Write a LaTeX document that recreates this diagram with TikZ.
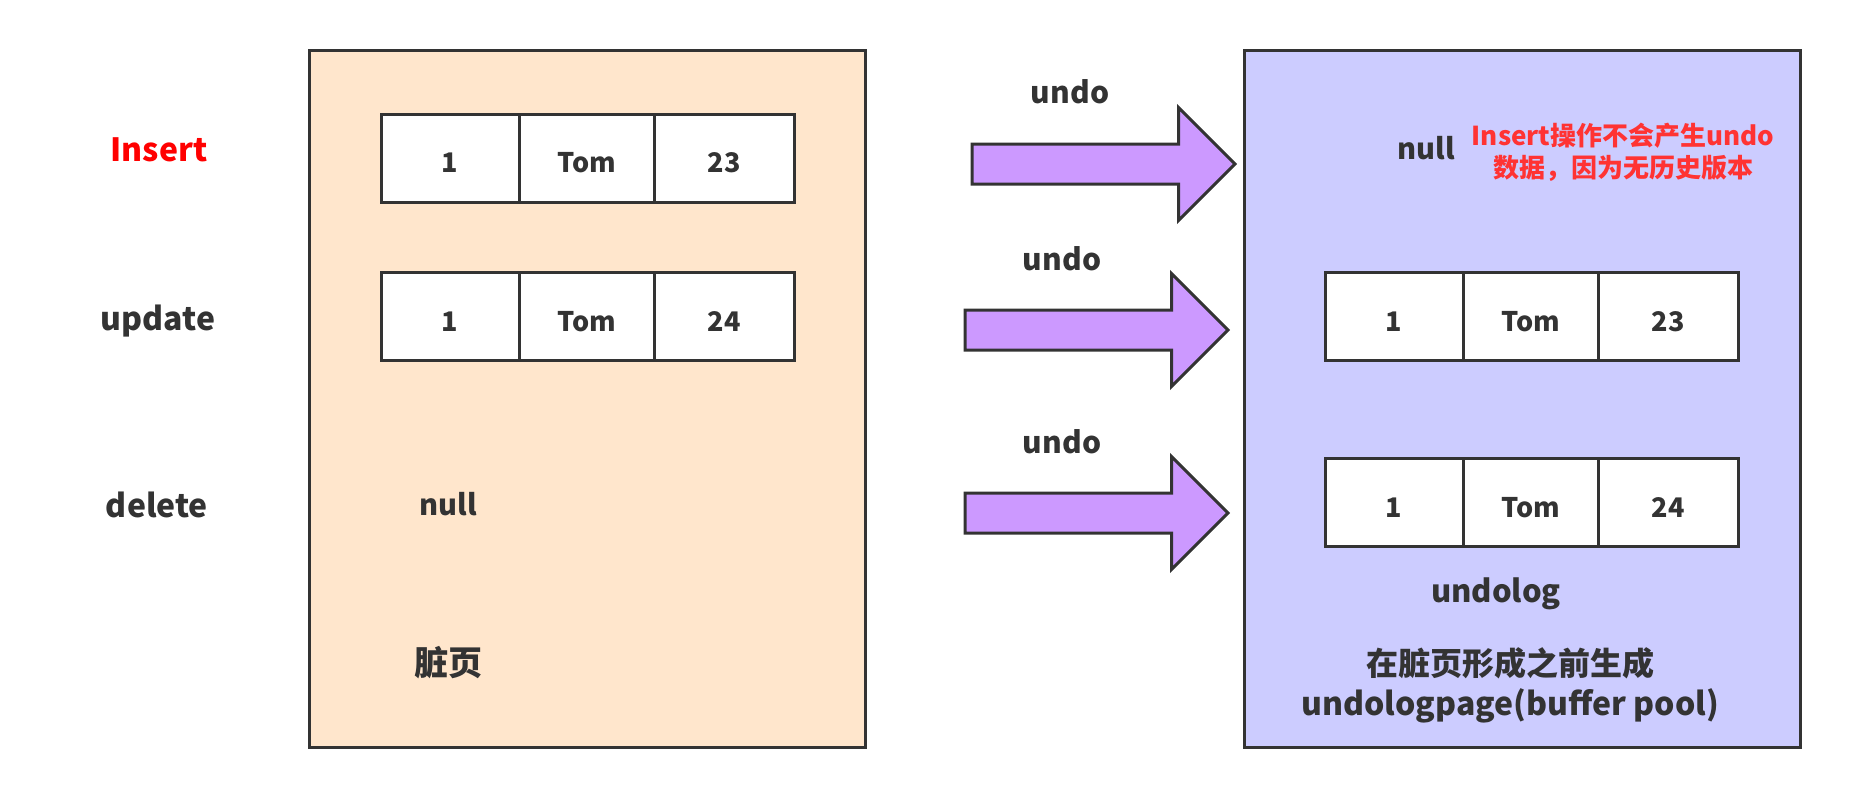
\documentclass[tikz,border=0pt]{standalone}
\usepackage{fontspec}
\setmainfont{Noto Sans CJK SC}
\usetikzlibrary{positioning,shapes.arrows}
\definecolor{ink}{HTML}{333333}
\definecolor{dirtyfill}{HTML}{FFE6CC}
\definecolor{undofill}{HTML}{CCCCFF}
\definecolor{arrowfill}{HTML}{CC99FF}
\definecolor{notered}{HTML}{FF3333}
\newcommand{\fsz}[2]{\fontsize{#1}{#2}\selectfont\bfseries}
\tikzstyle{page} = [rectangle, draw=ink, line width=3pt, minimum width=556pt,
                    minimum height=697pt]
\tikzstyle{cell} = [rectangle, draw=ink, fill=white, line width=3pt, inner sep=0pt,
                    outer sep=0pt, minimum width=138pt, minimum height=88pt,
                    text height=29pt, text depth=0pt, font=\fsz{27}{32}]
\tikzstyle{bigarrow} = [single arrow, draw=ink, fill=arrowfill, line width=3pt,
                        inner xsep=0pt, inner ysep=18.5pt, minimum height=263pt,
                        single arrow head extend=36.5pt]
\tikzstyle{oplabel} = [font=\fsz{32}{38}]
\tikzstyle{undolabel} = [font=\fsz{30}{36}]

\begin{document}
\begin{tikzpicture}[x=1pt,y=-1pt,every node/.style={text=ink}]
 \useasboundingbox (0,0) rectangle (1850,798);
 % pages
 \node (DP) [page,fill=dirtyfill] at (587,398.5) {};
 \node (UP) [page,fill=undofill] at (1522.5,398.5) {};
 % operations
 \node (INS) [oplabel,text=red] at (159,150) {Insert};
 \node (UPD) [oplabel] at (158,321) {update};
 \node (DEL) [oplabel] at (157,505) {delete};
 % dirty page rows
 \node (A1) [cell] at (450,158) {1};
 \node (A2) [cell,right=0pt of A1,minimum width=135pt] {Tom};
 \node (A3) [cell,right=0pt of A2,minimum width=140pt] {23};
 \node (B1) [cell] at (450,316.5) {1};
 \node (B2) [cell,right=0pt of B1,minimum width=135pt] {Tom};
 \node (B3) [cell,right=0pt of B2,minimum width=140pt] {24};
 \node (DN) [font=\fsz{29}{34}] at (448,504) {null};
 \node (DL) [font=\fsz{34}{40}] at (448,663) {脏页};
 % undo arrows
 \node (U1) [bigarrow] at (1093.5,164) {};
 \node (U2) [bigarrow] at (1086.5,330) {};
 \node (U3) [bigarrow] at (1086.5,513) {};
 \node (L1) [undolabel] at (1070,92) {undo};
 \node (L2) [undolabel] at (1062,259) {undo};
 \node (L3) [undolabel] at (1062,442) {undo};
 % undo log rows
 \node (UN) [font=\fsz{29}{34}] at (1426,148) {null};
 \node (NOTE) [text=notered,align=center,font=\fsz{26}{32}] at (1623,152)
      {Insert操作不会产生undo\\数据，因为无历史版本};
 \node (C1) [cell] at (1394,316.5) {1};
 \node (C2) [cell,right=0pt of C1,minimum width=135pt] {Tom};
 \node (C3) [cell,right=0pt of C2,minimum width=140pt] {23};
 \node (D1) [cell] at (1394,502.5) {1};
 \node (D2) [cell,right=0pt of D1,minimum width=135pt] {Tom};
 \node (D3) [cell,right=0pt of D2,minimum width=140pt] {24};
 \node (UL) [font=\fsz{31}{36}] at (1496,594) {undolog};
 \node (ULP) [align=center,font=\fsz{32}{40}] at (1510,685)
      {在脏页形成之前生成\\undologpage(buffer pool)};
\end{tikzpicture}
\end{document}
